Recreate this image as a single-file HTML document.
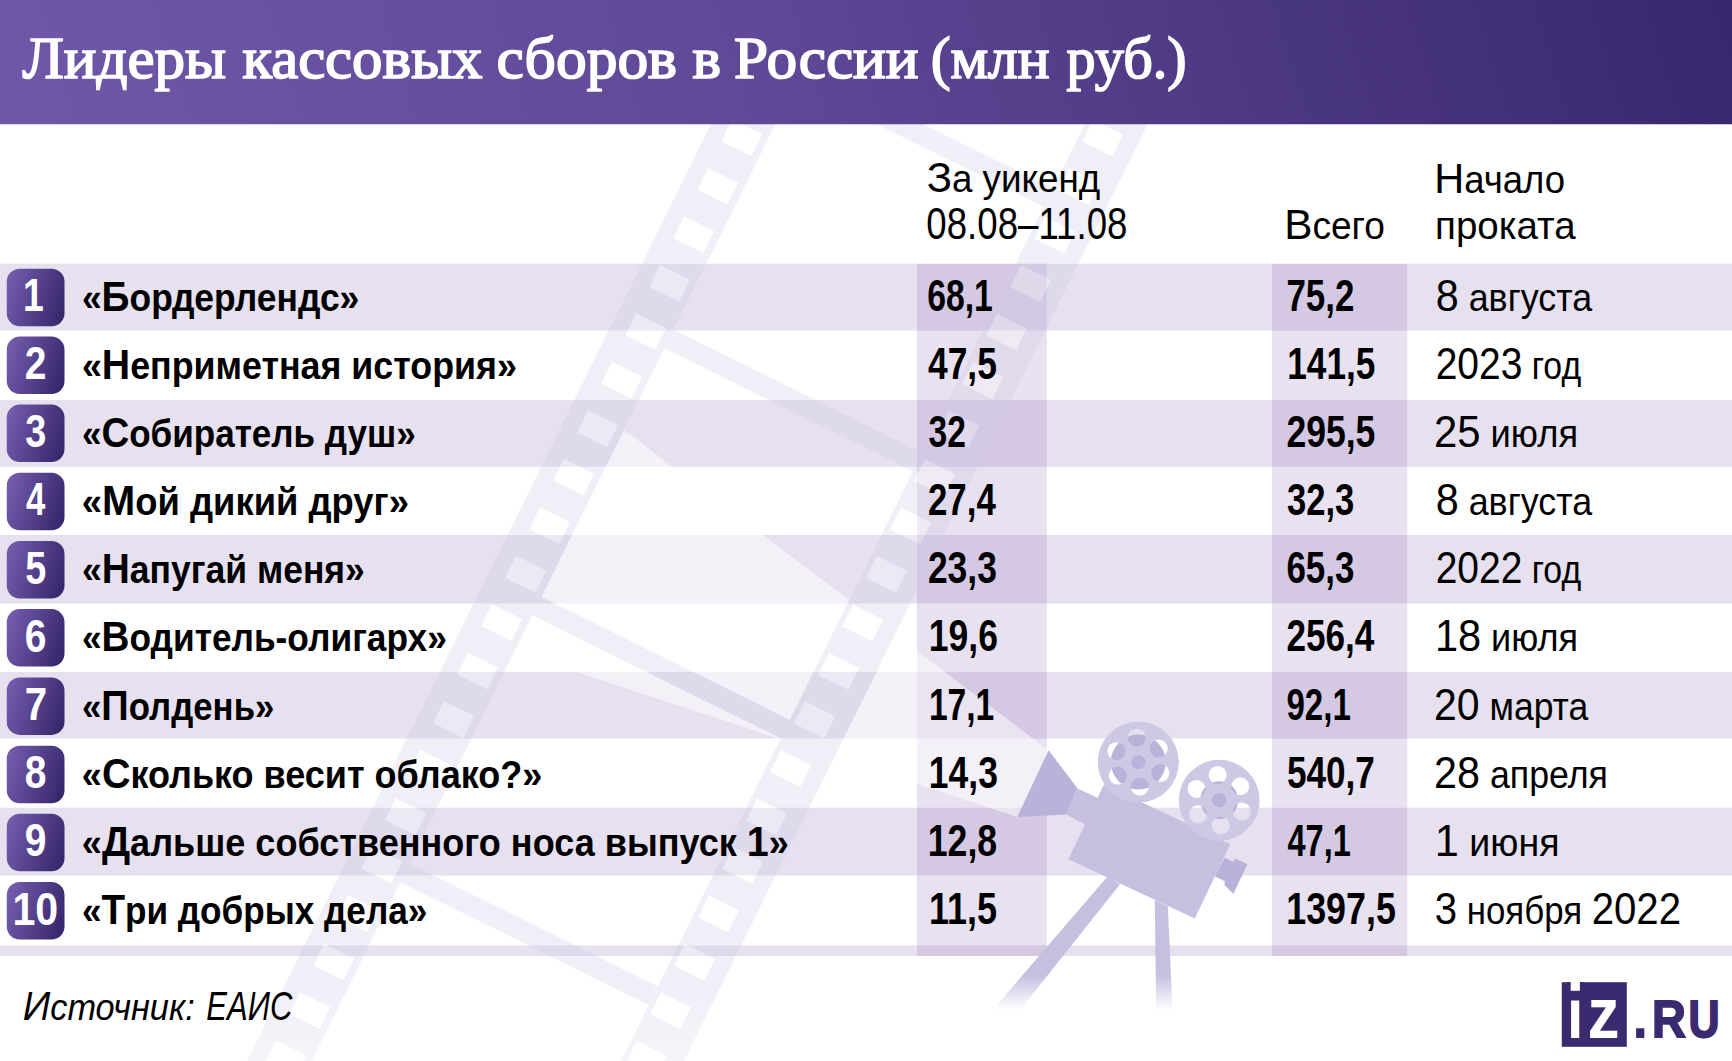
<!DOCTYPE html>
<html lang="ru"><head><meta charset="utf-8"><title>Лидеры кассовых сборов в России</title>
<style>
html,body{margin:0;padding:0;background:#fff}
body{width:1732px;height:1061px;overflow:hidden}
svg{display:block}
text{white-space:pre}
.b,.L,.B,.T{font-family:'Liberation Sans', sans-serif;font-weight:700}
.r{font-family:'Liberation Sans', sans-serif;font-weight:400}
.i{font-family:'Liberation Sans', sans-serif;font-weight:400;font-style:italic}
.t{font-family:'Liberation Serif', serif;font-weight:400}
</style></head><body>
<svg width="1732" height="1061" viewBox="0 0 1732 1061">
<defs>
<linearGradient id="hg" gradientUnits="userSpaceOnUse" x1="0" y1="330" x2="1732" y2="-200"><stop offset="0" stop-color="#7059a9"/><stop offset="0.45" stop-color="#5f4896"/><stop offset="1" stop-color="#35256b"/></linearGradient>
<linearGradient id="bg" x1="0" y1="0.35" x2="1" y2="0.65"><stop offset="0" stop-color="#725bab"/><stop offset="1" stop-color="#38276d"/></linearGradient>
<linearGradient id="sg" gradientUnits="userSpaceOnUse" x1="0" y1="985" x2="0" y2="1061"><stop offset="0" stop-color="#d0cae6" stop-opacity="0.32"/><stop offset="1" stop-color="#d0cae6" stop-opacity="0.2"/></linearGradient>
<linearGradient id="lg" gradientUnits="userSpaceOnUse" x1="0" y1="975" x2="0" y2="1010"><stop offset="0" stop-color="#c6bfe0"/><stop offset="1" stop-color="#c6bfe0" stop-opacity="0"/></linearGradient>
<mask id="bm" maskUnits="userSpaceOnUse" x="0" y="0" width="1732" height="1061"><polygon points="1035.9,-402.2 2380.2,263.2 1342.1,2360.4 -2.2,1694.9" fill="#fff"/><polygon points="1106.9,79.3 1157.4,104.3 474.2,1484.4 423.7,1459.5" fill="#000"/><polygon points="804.4,65.4 1052.9,188.4 1043.8,206.8 795.3,83.8" fill="#000"/><polygon points="673.6,329.8 922.0,452.8 913.0,471.2 664.5,348.2" fill="#000"/><polygon points="541.4,596.9 789.8,719.9 780.8,738.2 532.3,615.2" fill="#000"/><polygon points="409.4,863.5 657.9,986.5 648.8,1004.9 400.3,881.9" fill="#000"/><polygon points="277.4,1130.1 525.9,1253.1 516.8,1271.5 268.3,1148.5" fill="#000"/></mask>
</defs>
<rect width="1732" height="1061" fill="#fff"/>
<rect x="0" y="263.75" width="1732" height="66.75" fill="#e6e0ef"/><rect x="0" y="400" width="1732" height="66.70" fill="#e6e0ef"/><rect x="0" y="535" width="1732" height="68.50" fill="#e6e0ef"/><rect x="0" y="672" width="1732" height="66.50" fill="#e6e0ef"/><rect x="0" y="807.75" width="1732" height="67.75" fill="#e6e0ef"/><rect x="0" y="945.5" width="1732" height="10.50" fill="#e6e0ef"/>
<rect x="917" y="263.75" width="129.75" height="692.25" fill="#8a68b4" fill-opacity="0.2"/><rect x="1272" y="263.75" width="135.2" height="692.25" fill="#8a68b4" fill-opacity="0.2"/>
<polygon points="1048.6,750.3 300.0,185.4 300.0,1000.0 300.0,581.0 1017.2,817.0" fill="#fff" fill-opacity="0.5" mask="url(#bm)"/>
<path d="M806.7 -69.3 L858.4 -43.7 L175.3 1336.5 L123.5 1310.8ZM793.3 -4.2 L823.3 10.6 L834.1 -11.2 L804.0 -26.0ZM769.3 44.2 L799.3 59.1 L810.1 37.3 L780.0 22.5ZM745.3 92.7 L775.3 107.6 L786.1 85.8 L756.0 70.9ZM721.3 141.2 L751.3 156.1 L762.1 134.3 L732.0 119.4ZM697.3 189.7 L727.3 204.6 L738.1 182.8 L708.0 167.9ZM673.3 238.2 L703.3 253.0 L714.1 231.3 L684.0 216.4ZM649.3 286.7 L679.3 301.5 L690.1 279.7 L660.0 264.9ZM625.3 335.2 L655.3 350.0 L666.1 328.2 L636.0 313.4ZM601.3 383.6 L631.3 398.5 L642.1 376.7 L612.0 361.9ZM577.3 432.1 L607.3 447.0 L618.1 425.2 L588.0 410.3ZM553.3 480.6 L583.3 495.5 L594.1 473.7 L564.0 458.8ZM529.3 529.1 L559.3 544.0 L570.1 522.2 L540.0 507.3ZM505.3 577.6 L535.3 592.4 L546.1 570.7 L516.0 555.8ZM481.3 626.1 L511.3 640.9 L522.1 619.1 L492.0 604.3ZM457.3 674.5 L487.3 689.4 L498.1 667.6 L468.0 652.8ZM433.3 723.0 L463.3 737.9 L474.1 716.1 L444.0 701.3ZM409.3 771.5 L439.3 786.4 L450.1 764.6 L420.0 749.7ZM385.3 820.0 L415.3 834.9 L426.1 813.1 L396.0 798.2ZM361.3 868.5 L391.3 883.3 L402.1 861.6 L372.0 846.7ZM337.3 917.0 L367.3 931.8 L378.1 910.1 L348.0 895.2ZM313.3 965.5 L343.3 980.3 L354.1 958.5 L324.0 943.7ZM289.3 1013.9 L319.3 1028.8 L330.1 1007.0 L300.0 992.2ZM265.3 1062.4 L295.3 1077.3 L306.1 1055.5 L276.0 1040.6ZM241.3 1110.9 L271.3 1125.8 L282.1 1104.0 L252.0 1089.1ZM217.3 1159.4 L247.3 1174.3 L258.1 1152.5 L228.0 1137.6ZM193.3 1207.9 L223.3 1222.7 L234.1 1201.0 L204.0 1186.1ZM169.3 1256.4 L199.3 1271.2 L210.1 1249.5 L180.0 1234.6ZM145.3 1304.9 L175.3 1319.7 L186.1 1297.9 L156.0 1283.1ZM1106.9 79.3 L1157.4 104.3 L474.2 1484.4 L423.7 1459.5ZM1082.2 141.6 L1112.3 156.4 L1123.0 134.7 L1093.0 119.8ZM1058.2 190.1 L1088.3 204.9 L1099.0 183.2 L1069.0 168.3ZM1034.2 238.6 L1064.3 253.4 L1075.0 231.6 L1045.0 216.8ZM1010.2 287.0 L1040.3 301.9 L1051.0 280.1 L1021.0 265.3ZM986.2 335.5 L1016.3 350.4 L1027.0 328.6 L997.0 313.7ZM962.2 384.0 L992.3 398.9 L1003.0 377.1 L973.0 362.2ZM938.2 432.5 L968.3 447.4 L979.0 425.6 L949.0 410.7ZM914.2 481.0 L944.3 495.8 L955.0 474.1 L925.0 459.2ZM890.2 529.5 L920.3 544.3 L931.0 522.5 L901.0 507.7ZM866.2 577.9 L896.2 592.8 L907.0 571.0 L877.0 556.2ZM842.2 626.4 L872.2 641.3 L883.0 619.5 L853.0 604.7ZM818.2 674.9 L848.2 689.8 L859.0 668.0 L829.0 653.1ZM794.2 723.4 L824.2 738.3 L835.0 716.5 L805.0 701.6ZM770.2 771.9 L800.2 786.7 L811.0 765.0 L781.0 750.1ZM746.2 820.4 L776.2 835.2 L787.0 813.5 L757.0 798.6ZM722.2 868.9 L752.2 883.7 L763.0 861.9 L733.0 847.1ZM698.2 917.3 L728.2 932.2 L739.0 910.4 L709.0 895.6ZM674.2 965.8 L704.2 980.7 L715.0 958.9 L685.0 944.1ZM650.2 1014.3 L680.2 1029.2 L691.0 1007.4 L661.0 992.5ZM626.2 1062.8 L656.2 1077.7 L667.0 1055.9 L637.0 1041.0ZM602.2 1111.3 L632.2 1126.1 L643.0 1104.4 L613.0 1089.5ZM578.2 1159.8 L608.2 1174.6 L619.0 1152.9 L589.0 1138.0ZM554.2 1208.3 L584.2 1223.1 L595.0 1201.3 L565.0 1186.5ZM530.2 1256.7 L560.2 1271.6 L571.0 1249.8 L541.0 1235.0ZM506.2 1305.2 L536.2 1320.1 L547.0 1298.3 L517.0 1283.4ZM482.2 1353.7 L512.2 1368.6 L523.0 1346.8 L493.0 1331.9ZM458.2 1402.2 L488.2 1417.1 L499.0 1395.3 L469.0 1380.4ZM434.2 1450.7 L464.2 1465.5 L475.0 1443.8 L445.0 1428.9ZM804.4 65.4 L1052.9 188.4 L1043.8 206.8 L795.3 83.8ZM673.6 329.8 L922.0 452.8 L913.0 471.2 L664.5 348.2ZM541.4 596.9 L789.8 719.9 L780.8 738.2 L532.3 615.2ZM409.4 863.5 L657.9 986.5 L648.8 1004.9 L400.3 881.9ZM277.4 1130.1 L525.9 1253.1 L516.8 1271.5 L268.3 1148.5Z" fill="url(#sg)" fill-rule="evenodd"/><g fill="#fff" fill-opacity="0.3"><polygon points="804.0,-26.0 834.1,-11.2 823.3,10.6 793.3,-4.2"/><polygon points="780.0,22.5 810.1,37.3 799.3,59.1 769.3,44.2"/><polygon points="756.0,70.9 786.1,85.8 775.3,107.6 745.3,92.7"/><polygon points="732.0,119.4 762.1,134.3 751.3,156.1 721.3,141.2"/><polygon points="708.0,167.9 738.1,182.8 727.3,204.6 697.3,189.7"/><polygon points="684.0,216.4 714.1,231.3 703.3,253.0 673.3,238.2"/><polygon points="660.0,264.9 690.1,279.7 679.3,301.5 649.3,286.7"/><polygon points="636.0,313.4 666.1,328.2 655.3,350.0 625.3,335.2"/><polygon points="612.0,361.9 642.1,376.7 631.3,398.5 601.3,383.6"/><polygon points="588.0,410.3 618.1,425.2 607.3,447.0 577.3,432.1"/><polygon points="564.0,458.8 594.1,473.7 583.3,495.5 553.3,480.6"/><polygon points="540.0,507.3 570.1,522.2 559.3,544.0 529.3,529.1"/><polygon points="516.0,555.8 546.1,570.7 535.3,592.4 505.3,577.6"/><polygon points="492.0,604.3 522.1,619.1 511.3,640.9 481.3,626.1"/><polygon points="468.0,652.8 498.1,667.6 487.3,689.4 457.3,674.5"/><polygon points="444.0,701.3 474.1,716.1 463.3,737.9 433.3,723.0"/><polygon points="420.0,749.7 450.1,764.6 439.3,786.4 409.3,771.5"/><polygon points="396.0,798.2 426.1,813.1 415.3,834.9 385.3,820.0"/><polygon points="372.0,846.7 402.1,861.6 391.3,883.3 361.3,868.5"/><polygon points="348.0,895.2 378.1,910.1 367.3,931.8 337.3,917.0"/><polygon points="324.0,943.7 354.1,958.5 343.3,980.3 313.3,965.5"/><polygon points="300.0,992.2 330.1,1007.0 319.3,1028.8 289.3,1013.9"/><polygon points="276.0,1040.6 306.1,1055.5 295.3,1077.3 265.3,1062.4"/><polygon points="252.0,1089.1 282.1,1104.0 271.3,1125.8 241.3,1110.9"/><polygon points="228.0,1137.6 258.1,1152.5 247.3,1174.3 217.3,1159.4"/><polygon points="204.0,1186.1 234.1,1201.0 223.3,1222.7 193.3,1207.9"/><polygon points="180.0,1234.6 210.1,1249.5 199.3,1271.2 169.3,1256.4"/><polygon points="156.0,1283.1 186.1,1297.9 175.3,1319.7 145.3,1304.9"/><polygon points="1093.0,119.8 1123.0,134.7 1112.3,156.4 1082.2,141.6"/><polygon points="1069.0,168.3 1099.0,183.2 1088.3,204.9 1058.2,190.1"/><polygon points="1045.0,216.8 1075.0,231.6 1064.3,253.4 1034.2,238.6"/><polygon points="1021.0,265.3 1051.0,280.1 1040.3,301.9 1010.2,287.0"/><polygon points="997.0,313.7 1027.0,328.6 1016.3,350.4 986.2,335.5"/><polygon points="973.0,362.2 1003.0,377.1 992.3,398.9 962.2,384.0"/><polygon points="949.0,410.7 979.0,425.6 968.3,447.4 938.2,432.5"/><polygon points="925.0,459.2 955.0,474.1 944.3,495.8 914.2,481.0"/><polygon points="901.0,507.7 931.0,522.5 920.3,544.3 890.2,529.5"/><polygon points="877.0,556.2 907.0,571.0 896.2,592.8 866.2,577.9"/><polygon points="853.0,604.7 883.0,619.5 872.2,641.3 842.2,626.4"/><polygon points="829.0,653.1 859.0,668.0 848.2,689.8 818.2,674.9"/><polygon points="805.0,701.6 835.0,716.5 824.2,738.3 794.2,723.4"/><polygon points="781.0,750.1 811.0,765.0 800.2,786.7 770.2,771.9"/><polygon points="757.0,798.6 787.0,813.5 776.2,835.2 746.2,820.4"/><polygon points="733.0,847.1 763.0,861.9 752.2,883.7 722.2,868.9"/><polygon points="709.0,895.6 739.0,910.4 728.2,932.2 698.2,917.3"/><polygon points="685.0,944.1 715.0,958.9 704.2,980.7 674.2,965.8"/><polygon points="661.0,992.5 691.0,1007.4 680.2,1029.2 650.2,1014.3"/><polygon points="637.0,1041.0 667.0,1055.9 656.2,1077.7 626.2,1062.8"/><polygon points="613.0,1089.5 643.0,1104.4 632.2,1126.1 602.2,1111.3"/><polygon points="589.0,1138.0 619.0,1152.9 608.2,1174.6 578.2,1159.8"/><polygon points="565.0,1186.5 595.0,1201.3 584.2,1223.1 554.2,1208.3"/><polygon points="541.0,1235.0 571.0,1249.8 560.2,1271.6 530.2,1256.7"/><polygon points="517.0,1283.4 547.0,1298.3 536.2,1320.1 506.2,1305.2"/><polygon points="493.0,1331.9 523.0,1346.8 512.2,1368.6 482.2,1353.7"/><polygon points="469.0,1380.4 499.0,1395.3 488.2,1417.1 458.2,1402.2"/><polygon points="445.0,1428.9 475.0,1443.8 464.2,1465.5 434.2,1450.7"/></g>
<polygon points="1107.1,877.1 1120.3,884.1 1020,1010 992.5,1010" fill="url(#lg)"/><polygon points="1154.8,900.1 1167.8,906.3 1172.5,1010.4 1156.1,1010.4" fill="url(#lg)"/><polygon points="1048.6,750.3 1017.2,817.0 1066.3,814.4 1077.6,788.4" fill="#bbb2da"/><polygon points="1077.6,788.4 1099,798.5 1086,825 1066.3,814.4" fill="#c6bfe0"/><polygon points="1224.4,857.7 1233.8,861.8 1235.3,858.6 1247.4,864.3 1233.4,893.9 1224.4,885.0 1224.9,881.3 1214.9,876.6" fill="#bbb2da"/><polygon points="1103.9,784.5 1230.2,843.9 1194.8,918.6 1068.5,859.2" fill="#c6bfe0"/><mask id="rm1138" maskUnits="userSpaceOnUse" x="1095.6" y="719.4" width="85.4" height="85.4"><circle cx="1138.3" cy="762.1" r="40.7" fill="#fff"/><circle cx="1136.80" cy="737.65" r="9" fill="#000"/><circle cx="1158.73" cy="748.58" r="9" fill="#000"/><circle cx="1160.23" cy="773.03" r="9" fill="#000"/><circle cx="1139.80" cy="786.55" r="9" fill="#000"/><circle cx="1117.87" cy="775.62" r="9" fill="#000"/><circle cx="1116.37" cy="751.17" r="9" fill="#000"/></mask><circle cx="1138.3" cy="762.1" r="27.5" fill="#bbb2da"/><circle cx="1138.3" cy="762.1" r="40.7" fill="#cdc9e5" mask="url(#rm1138)"/><circle cx="1138.3" cy="762.1" r="7" fill="#bbb2da"/><mask id="rm1219" maskUnits="userSpaceOnUse" x="1176.6000000000001" y="757.6" width="85.2" height="85.2"><circle cx="1219.2" cy="800.2" r="40.6" fill="#fff"/><circle cx="1217.66" cy="774.95" r="9" fill="#000"/><circle cx="1240.30" cy="786.24" r="9" fill="#000"/><circle cx="1241.84" cy="811.49" r="9" fill="#000"/><circle cx="1220.74" cy="825.45" r="9" fill="#000"/><circle cx="1198.10" cy="814.16" r="9" fill="#000"/><circle cx="1196.56" cy="788.91" r="9" fill="#000"/></mask><circle cx="1219.2" cy="800.2" r="19" fill="#bbb2da"/><circle cx="1219.2" cy="800.2" r="40.6" fill="#cdc9e5" mask="url(#rm1219)"/><circle cx="1219.2" cy="800.2" r="7.3" fill="#bbb2da"/>
<rect x="0" y="0" width="1732" height="124.25" fill="url(#hg)"/>
<rect x="6.75" y="268.80" width="57.75" height="57.5" rx="13" fill="url(#bg)"/><rect x="6.75" y="336.60" width="57.75" height="57.5" rx="13" fill="url(#bg)"/><rect x="6.75" y="404.60" width="57.75" height="57.5" rx="13" fill="url(#bg)"/><rect x="6.75" y="472.80" width="57.75" height="57.5" rx="13" fill="url(#bg)"/><rect x="6.75" y="541.00" width="57.75" height="57.5" rx="13" fill="url(#bg)"/><rect x="6.75" y="609.10" width="57.75" height="57.5" rx="13" fill="url(#bg)"/><rect x="6.75" y="677.40" width="57.75" height="57.5" rx="13" fill="url(#bg)"/><rect x="6.75" y="745.70" width="57.75" height="57.5" rx="13" fill="url(#bg)"/><rect x="6.75" y="813.80" width="57.75" height="57.5" rx="13" fill="url(#bg)"/><rect x="6.75" y="882.00" width="57.75" height="57.5" rx="13" fill="url(#bg)"/>
<rect x="1561.8" y="982.2" width="65" height="64.6" fill="#3b2a70"/>
<g id="txt">
<text class="T" font-size="39.5" fill="#000" transform="translate(81.89,311.00) scale(0.8969,1)"><tspan font-size="39.5">«</tspan><tspan font-size="43.3">Б</tspan><tspan font-size="39.5">ордерлендс»</tspan></text>
<text class="b" font-size="44.5" fill="#000" transform="translate(927.20,311.00) scale(0.7579,1)">68,1</text>
<text class="b" font-size="44.5" fill="#000" transform="translate(1286.41,311.00) scale(0.7847,1)">75,2</text>
<text class="r" font-size="43.8" fill="#000" transform="translate(1435.71,311.00) scale(0.9444,1)"><tspan font-size="43.8">8</tspan><tspan font-size="38"> августа</tspan></text>
<text class="B" font-size="46" fill="#fff" transform="translate(22.92,311.30) scale(0.8116,1)">1</text>
<text class="T" font-size="39.5" fill="#000" transform="translate(81.88,378.80) scale(0.9065,1)"><tspan font-size="39.5">«</tspan><tspan font-size="43.3">Н</tspan><tspan font-size="39.5">еприметная история»</tspan></text>
<text class="b" font-size="44.5" fill="#000" transform="translate(928.00,378.80) scale(0.7953,1)">47,5</text>
<text class="b" font-size="44.5" fill="#000" transform="translate(1287.30,378.80) scale(0.7909,1)">141,5</text>
<text class="r" font-size="43.8" fill="#000" transform="translate(1435.67,378.80) scale(0.8900,1)"><tspan font-size="43.8">2023</tspan><tspan font-size="38"> год</tspan></text>
<text class="B" font-size="46" fill="#fff" transform="translate(24.73,379.10) scale(0.8478,1)">2</text>
<text class="T" font-size="39.5" fill="#000" transform="translate(81.90,446.80) scale(0.8878,1)"><tspan font-size="39.5">«</tspan><tspan font-size="43.3">С</tspan><tspan font-size="39.5">обиратель душ»</tspan></text>
<text class="b" font-size="44.5" fill="#000" transform="translate(928.48,446.80) scale(0.7548,1)">32</text>
<text class="b" font-size="44.5" fill="#000" transform="translate(1286.39,446.80) scale(0.7992,1)">295,5</text>
<text class="r" font-size="43.8" fill="#000" transform="translate(1434.04,446.80) scale(0.9544,1)"><tspan font-size="43.8">25</tspan><tspan font-size="38"> июля</tspan></text>
<text class="B" font-size="46" fill="#fff" transform="translate(25.36,447.10) scale(0.8221,1)">3</text>
<text class="T" font-size="39.5" fill="#000" transform="translate(81.86,515.00) scale(0.9210,1)"><tspan font-size="39.5">«</tspan><tspan font-size="43.3">М</tspan><tspan font-size="39.5">ой дикий друг»</tspan></text>
<text class="b" font-size="44.5" fill="#000" transform="translate(927.91,515.00) scale(0.7836,1)">27,4</text>
<text class="b" font-size="44.5" fill="#000" transform="translate(1286.96,515.00) scale(0.7782,1)">32,3</text>
<text class="r" font-size="43.8" fill="#000" transform="translate(1435.71,515.00) scale(0.9444,1)"><tspan font-size="43.8">8</tspan><tspan font-size="38"> августа</tspan></text>
<text class="B" font-size="46" fill="#fff" transform="translate(25.95,515.30) scale(0.7536,1)">4</text>
<text class="T" font-size="39.5" fill="#000" transform="translate(81.89,583.20) scale(0.8992,1)"><tspan font-size="39.5">«</tspan><tspan font-size="43.3">Н</tspan><tspan font-size="39.5">апугай меня»</tspan></text>
<text class="b" font-size="44.5" fill="#000" transform="translate(927.89,583.20) scale(0.7966,1)">23,3</text>
<text class="b" font-size="44.5" fill="#000" transform="translate(1286.41,583.20) scale(0.7847,1)">65,3</text>
<text class="r" font-size="43.8" fill="#000" transform="translate(1435.67,583.20) scale(0.8900,1)"><tspan font-size="43.8">2022</tspan><tspan font-size="38"> год</tspan></text>
<text class="B" font-size="46" fill="#fff" transform="translate(25.36,583.50) scale(0.8221,1)">5</text>
<text class="T" font-size="39.5" fill="#000" transform="translate(81.90,651.30) scale(0.8935,1)"><tspan font-size="39.5">«</tspan><tspan font-size="43.3">В</tspan><tspan font-size="39.5">одитель-олигарх»</tspan></text>
<text class="b" font-size="44.5" fill="#000" transform="translate(928.78,651.30) scale(0.7979,1)">19,6</text>
<text class="b" font-size="44.5" fill="#000" transform="translate(1286.40,651.30) scale(0.7891,1)">256,4</text>
<text class="r" font-size="43.8" fill="#000" transform="translate(1434.90,651.30) scale(0.9486,1)"><tspan font-size="43.8">18</tspan><tspan font-size="38"> июля</tspan></text>
<text class="B" font-size="46" fill="#fff" transform="translate(24.73,651.60) scale(0.8478,1)">6</text>
<text class="T" font-size="39.5" fill="#000" transform="translate(81.91,719.60) scale(0.8811,1)"><tspan font-size="39.5">«</tspan><tspan font-size="43.3">П</tspan><tspan font-size="39.5">олдень»</tspan></text>
<text class="b" font-size="44.5" fill="#000" transform="translate(928.90,719.60) scale(0.7556,1)">17,1</text>
<text class="b" font-size="44.5" fill="#000" transform="translate(1286.47,719.60) scale(0.7431,1)">92,1</text>
<text class="r" font-size="43.8" fill="#000" transform="translate(1434.08,719.60) scale(0.9348,1)"><tspan font-size="43.8">20</tspan><tspan font-size="38"> марта</tspan></text>
<text class="B" font-size="46" fill="#fff" transform="translate(24.69,719.90) scale(0.8752,1)">7</text>
<text class="T" font-size="39.5" fill="#000" transform="translate(81.87,787.90) scale(0.9117,1)"><tspan font-size="39.5">«</tspan><tspan font-size="43.3">С</tspan><tspan font-size="39.5">колько весит облако?»</tspan></text>
<text class="b" font-size="44.5" fill="#000" transform="translate(928.78,787.90) scale(0.7979,1)">14,3</text>
<text class="b" font-size="44.5" fill="#000" transform="translate(1286.95,787.90) scale(0.7900,1)">540,7</text>
<text class="r" font-size="43.8" fill="#000" transform="translate(1434.07,787.90) scale(0.9417,1)"><tspan font-size="43.8">28</tspan><tspan font-size="38"> апреля</tspan></text>
<text class="B" font-size="46" fill="#fff" transform="translate(24.73,788.20) scale(0.8478,1)">8</text>
<text class="T" font-size="39.5" fill="#000" transform="translate(81.87,856.00) scale(0.9131,1)"><tspan font-size="39.5">«</tspan><tspan font-size="43.3">Д</tspan><tspan font-size="39.5">альше собственного носа выпуск </tspan><tspan font-size="43.3">1</tspan><tspan font-size="39.5">»</tspan></text>
<text class="b" font-size="44.5" fill="#000" transform="translate(927.77,856.00) scale(0.8009,1)">12,8</text>
<text class="b" font-size="44.5" fill="#000" transform="translate(1287.50,856.00) scale(0.7310,1)">47,1</text>
<text class="r" font-size="43.8" fill="#000" transform="translate(1434.79,856.00) scale(0.9893,1)"><tspan font-size="43.8">1</tspan><tspan font-size="38"> июня</tspan></text>
<text class="B" font-size="46" fill="#fff" transform="translate(24.73,856.30) scale(0.8478,1)">9</text>
<text class="T" font-size="39.5" fill="#000" transform="translate(81.90,924.20) scale(0.8899,1)"><tspan font-size="39.5">«</tspan><tspan font-size="43.3">Т</tspan><tspan font-size="39.5">ри добрых дела»</tspan></text>
<text class="b" font-size="44.5" fill="#000" transform="translate(929.00,924.20) scale(0.8098,1)">11,5</text>
<text class="b" font-size="44.5" fill="#000" transform="translate(1286.26,924.20) scale(0.8055,1)">1397,5</text>
<text class="r" font-size="43.8" fill="#000" transform="translate(1434.74,924.20) scale(0.9171,1)"><tspan font-size="43.8">3</tspan><tspan font-size="38"> ноября </tspan><tspan font-size="43.8">2022</tspan></text>
<text class="B" font-size="46" fill="#fff" transform="translate(12.38,924.50) scale(0.8939,1)">10</text>
<text class="r" font-size="43.3" fill="#000" transform="translate(926.69,192.00) scale(0.9671,1)"><tspan font-size="43.3">З</tspan><tspan font-size="38">а уикенд</tspan></text>
<text class="r" font-size="43.8" fill="#000" transform="translate(926.35,238.75) scale(0.8369,1)">08.08–11.08</text>
<text class="r" font-size="43.3" fill="#000" transform="translate(1284.19,239.00) scale(0.9771,1)"><tspan font-size="43.3">В</tspan><tspan font-size="38">сего</tspan></text>
<text class="r" font-size="43.3" fill="#000" transform="translate(1434.25,192.50) scale(0.9596,1)"><tspan font-size="43.3">Н</tspan><tspan font-size="38">ачало</tspan></text>
<text class="r" font-size="38" fill="#000" transform="translate(1435.09,239.00) scale(1.0140,1)">проката</text>
<text class="t" font-size="59" fill="#fff" stroke="#fff" stroke-width="1.7" transform="translate(22.50,77.70) scale(1.0331,1)">Лидеры </text>
<text class="t" font-size="59" fill="#fff" stroke="#fff" stroke-width="1.7" transform="translate(242.55,77.70) scale(1.0306,1)">кассовых </text>
<text class="t" font-size="59" fill="#fff" stroke="#fff" stroke-width="1.7" transform="translate(496.58,77.70) scale(1.0422,1)">сборов </text>
<text class="t" font-size="59" fill="#fff" stroke="#fff" stroke-width="1.7" transform="translate(692.55,77.70) scale(1.0266,1)">в </text>
<text class="t" font-size="59" fill="#fff" stroke="#fff" stroke-width="1.7" transform="translate(734.04,77.70) scale(1.0383,1)">России </text>
<text class="t" font-size="59" fill="#fff" stroke="#fff" stroke-width="1.7" transform="translate(930.64,77.70) scale(1.0087,1)">(млн </text>
<text class="t" font-size="59" fill="#fff" stroke="#fff" stroke-width="1.7" transform="translate(1066.59,77.70) scale(0.9848,1)">руб.)</text>
<text class="i" font-size="41.4" fill="#000" transform="translate(22.70,1020.30) scale(0.9287,1)"><tspan font-size="41.4">И</tspan><tspan font-size="37">сточник: </tspan></text>
<text class="i" font-size="41.4" fill="#000" transform="translate(206.32,1020.30) scale(0.7496,1)">ЕАИС</text>
<text class="B" font-size="72" fill="#fff" transform="translate(1567.02,1037.90) scale(0.8178,1)">i</text>
<text class="B" font-size="72" fill="#fff" transform="translate(1587.60,1037.90) scale(0.8889,1)">z</text>
<text class="L" font-size="52" fill="#3b2a70" stroke="#3b2a70" stroke-width="1.7" stroke-linejoin="miter" vector-effect="non-scaling-stroke" transform="translate(1633.78,1037.10) scale(0.8985,1)">.</text>
<text class="L" font-size="52" fill="#3b2a70" stroke="#3b2a70" stroke-width="1.7" stroke-linejoin="miter" vector-effect="non-scaling-stroke" transform="translate(1651.91,1037.05) scale(0.9036,1)">R</text>
<text class="L" font-size="52" fill="#3b2a70" stroke="#3b2a70" stroke-width="1.7" stroke-linejoin="miter" vector-effect="non-scaling-stroke" transform="translate(1688.53,1037.05) scale(0.8277,1)">U</text>
</g>
<rect x="1567" y="982.2" width="17" height="18.3" fill="#3b2a70"/><rect x="1570.7" y="981" width="9.2" height="9.8" fill="#fff"/>
</svg>
</body></html>
